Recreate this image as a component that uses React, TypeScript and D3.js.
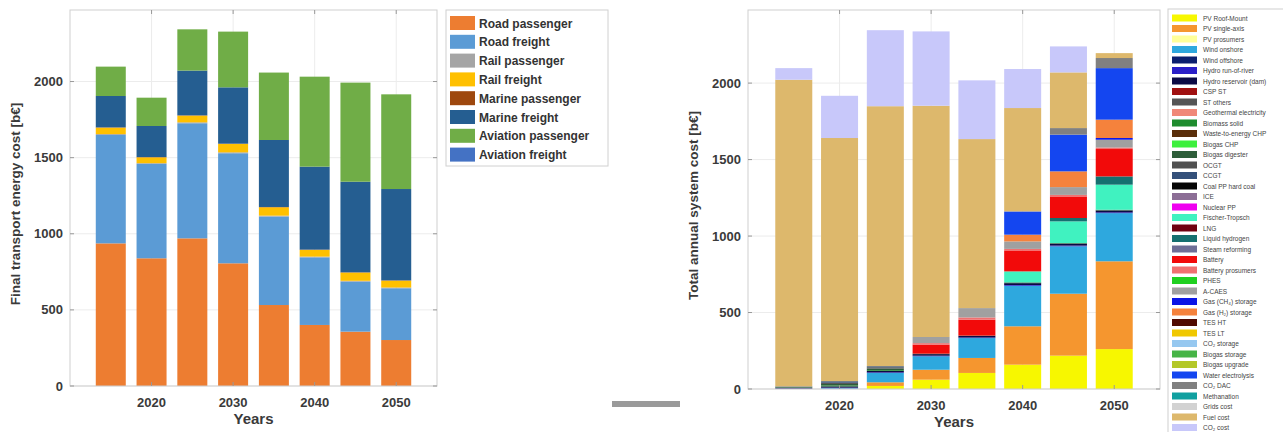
import React from 'react';
import * as d3 from 'd3';

const years = [2015, 2020, 2025, 2030, 2035, 2040, 2045, 2050];
const xTicks = [2020, 2030, 2040, 2050];
const yTicks = [0, 500, 1000, 1500, 2000];

// ---------- Left chart: final transport energy cost [b€] ----------
const transportLabels = [
  'Road passenger', 'Road freight', 'Rail passenger', 'Rail freight',
  'Marine passenger', 'Marine freight', 'Aviation passenger', 'Aviation freight',
];
const transportColors = ['#ED7D31', '#5B9BD5', '#A5A5A5', '#FFC000', '#9E480E', '#255E91', '#70AD47', '#4472C4'];
const roadPassenger = [937, 839, 970, 806, 532, 401, 357, 302];
const roadFreight = [712, 620, 756, 723, 581, 444, 328, 340];
const railPassenger = [6, 5, 6, 6, 6, 5, 6, 5];
const railFreight = [42, 38, 44, 55, 55, 44, 54, 45];
const marinePassenger = [2, 2, 2, 2, 2, 2, 2, 2];
const marineFreight = [206, 204, 294, 370, 440, 545, 595, 600];
const aviationPassenger = [193, 186, 271, 366, 443, 591, 651, 622];
const aviationFreight = [0, 0, 0, 0, 0, 0, 0, 0];
const transportSeries = [roadPassenger, roadFreight, railPassenger, railFreight, marinePassenger, marineFreight, aviationPassenger, aviationFreight];

// ---------- Right chart: total annual system cost [b€] ----------
const techLabels = [
  'PV Roof-Mount', 'PV single-axis', 'PV prosumers', 'Wind onshore', 'Wind offshore',
  'Hydro run-of-river', 'Hydro reservoir (dam)', 'CSP ST', 'ST others', 'Geothermal electricity',
  'Biomass solid', 'Waste-to-energy CHP', 'Biogas CHP', 'Biogas digester', 'OCGT',
  'CCGT', 'Coal PP hard coal', 'ICE', 'Nuclear PP', 'Fischer-Tropsch',
  'LNG', 'Liquid hydrogen', 'Steam reforming', 'Battery', 'Battery prosumers',
  'PHES', 'A-CAES', 'Gas (CH\u2084) storage', 'Gas (H\u2082) storage', 'TES HT',
  'TES LT', 'CO\u2082 storage', 'Biogas storage', 'Biogas upgrade', 'Water electrolysis',
  'CO\u2082 DAC', 'Methanation', 'Grids cost', 'Fuel cost', 'CO\u2082 cost',
];
const techColors = [
  '#F7F700', '#F5962F', '#FFFF9A', '#2EA8DE', '#0B1F6E',
  '#2A1FC8', '#0A0A45', '#A01010', '#555555', '#F08878',
  '#1E8C2E', '#5A2E0A', '#3CF03C', '#2E5E3A', '#505050',
  '#34507A', '#050505', '#8C6E96', '#F000F0', '#40F2C0',
  '#700010', '#157070', '#6E6E96', '#F20A0A', '#F07070',
  '#20D020', '#A0A0A0', '#0A14E6', '#F5823C', '#500A00',
  '#F0C800', '#96C8F0', '#46B446', '#B4C828', '#1446F0',
  '#808080', '#10A0A0', '#D2D2D2', '#DDB86C', '#C8C8FA',
];
const pvRoof = [0, 0, 20, 61, 105, 159, 218, 261];
const pvSingleAxis = [0, 0, 24, 65, 98, 251, 405, 574];
const pvProsumers = [0, 0, 0, 0, 0, 0, 0, 0];
const windOnshore = [0, 5, 61, 88, 130, 265, 310, 315];
const windOffshore = [0, 0, 0, 0, 0, 0, 0, 0];
const hydroRoR = [3, 4, 4, 4, 4, 5, 5, 5];
const hydroDam = [6, 8, 10, 10, 10, 12, 12, 12];
const cspSt = [0, 0, 0, 0, 0, 0, 0, 0];
const stOthers = [0, 0, 0, 0, 0, 0, 0, 0];
const geothermal = [0, 0, 0, 0, 0, 0, 0, 0];
const biomassSolid = [2, 6, 5, 0, 0, 0, 0, 0];
const wasteChp = [0, 0, 0, 0, 0, 0, 0, 0];
const biogasChp = [0, 0, 0, 0, 0, 0, 0, 0];
const biogasDigester = [2, 10, 10, 3, 2, 5, 4, 5];
const ocgt = [2, 8, 8, 0, 0, 0, 0, 0];
const ccgt = [2, 10, 7, 0, 0, 0, 0, 0];
const coalPP = [0, 0, 0, 0, 0, 0, 0, 0];
const ice = [0, 0, 0, 0, 0, 0, 0, 0];
const nuclearPP = [0, 0, 0, 0, 0, 0, 0, 0];
const fischerTropsch = [0, 0, 0, 0, 0, 72, 142, 164];
const lng = [0, 0, 0, 0, 0, 0, 0, 0];
const liquidHydrogen = [0, 0, 0, 0, 0, 0, 22, 54];
const steamReforming = [0, 0, 0, 0, 0, 0, 0, 0];
const battery = [0, 0, 0, 59, 104, 137, 141, 179];
const batteryProsumers = [0, 0, 0, 10, 15, 10, 10, 10];
const phes = [0, 0, 0, 0, 0, 0, 0, 0];
const aCaes = [0, 0, 0, 40, 61, 49, 51, 51];
const gasCh4Storage = [0, 0, 0, 0, 0, 0, 0, 11];
const gasH2Storage = [0, 0, 0, 0, 0, 44, 103, 120];
const tesHt = [0, 0, 0, 0, 0, 0, 0, 0];
const tesLt = [0, 0, 0, 0, 0, 0, 0, 0];
const co2Storage = [0, 0, 0, 0, 0, 0, 0, 0];
const biogasStorage = [0, 0, 0, 0, 0, 0, 0, 0];
const biogasUpgrade = [0, 0, 0, 0, 0, 0, 0, 0];
const waterElectrolysis = [0, 0, 0, 0, 0, 152, 240, 337];
const co2Dac = [0, 0, 0, 0, 0, 0, 43, 66];
const methanation = [0, 0, 0, 0, 0, 0, 0, 0];
const gridsCost = [0, 0, 0, 0, 0, 0, 0, 0];
const fuelCost = [2005, 1590, 1700, 1512, 1105, 676, 364, 32];
const co2Cost = [76, 276, 497, 486, 384, 255, 170, 0];
const techSeries = [
  pvRoof, pvSingleAxis, pvProsumers, windOnshore, windOffshore,
  hydroRoR, hydroDam, cspSt, stOthers, geothermal,
  biomassSolid, wasteChp, biogasChp, biogasDigester, ocgt,
  ccgt, coalPP, ice, nuclearPP, fischerTropsch,
  lng, liquidHydrogen, steamReforming, battery, batteryProsumers,
  phes, aCaes, gasCh4Storage, gasH2Storage, tesHt,
  tesLt, co2Storage, biogasStorage, biogasUpgrade, waterElectrolysis,
  co2Dac, methanation, gridsCost, fuelCost, co2Cost,
];

const FONT = '"Liberation Sans", Arial, sans-serif';
const TXT = '#3a3a3a';

type PanelProps = {
  series: number[][];
  colors: string[];
  left: number; right: number; top: number; bottom: number;
  yMax: number; barWidth: number; yLabel: string;
};

function Panel({ series, colors, left, right, top, bottom, yMax, barWidth, yLabel }: PanelProps) {
  const x = d3.scaleLinear().domain([2010, 2055]).range([left, right]);
  const y = d3.scaleLinear().domain([0, yMax]).range([bottom, top]);
  const keys = series.map((_, i) => 's' + i);
  const table = years.map((yr, j) => {
    const row: Record<string, number> = { year: yr };
    series.forEach((s, i) => { row['s' + i] = s[j]; });
    return row;
  });
  const stacked = d3.stack<Record<string, number>>().keys(keys)(table);
  return (
    <g>
      <rect x={left} y={top} width={right - left} height={bottom - top} fill="#fff" />
      {xTicks.map(t => (
        <line key={'gx' + t} x1={x(t)} x2={x(t)} y1={top} y2={bottom} stroke="#ececec" strokeWidth={1} />
      ))}
      {yTicks.map(t => (
        <line key={'gy' + t} x1={left} x2={right} y1={y(t)} y2={y(t)} stroke="#ececec" strokeWidth={1} />
      ))}
      {stacked.map((layer, i) => (
        <g key={'L' + i} fill={colors[i]}>
          {layer.map((d, j) => {
            const h = y(d[0]) - y(d[1]);
            if (h <= 0) return null;
            return <rect key={j} x={x(years[j]) - barWidth / 2} y={y(d[1])} width={barWidth} height={h} />;
          })}
        </g>
      ))}
      <rect x={left} y={top} width={right - left} height={bottom - top} fill="none" stroke="#cfcfcf" strokeWidth={1} />
      {xTicks.map(t => (
        <g key={'tx' + t}>
          <line x1={x(t)} x2={x(t)} y1={bottom} y2={bottom - 4} stroke="#999" />
          <line x1={x(t)} x2={x(t)} y1={top} y2={top + 4} stroke="#999" />
          <text x={x(t)} y={bottom + 21} textAnchor="middle" fontFamily={FONT} fontWeight="bold" fontSize={13} fill={TXT}>{t}</text>
        </g>
      ))}
      {yTicks.map(t => (
        <g key={'ty' + t}>
          <line x1={left} x2={left + 4} y1={y(t)} y2={y(t)} stroke="#999" />
          <line x1={right} x2={right - 4} y1={y(t)} y2={y(t)} stroke="#999" />
          <text x={left - 7} y={y(t) + 4.5} textAnchor="end" fontFamily={FONT} fontWeight="bold" fontSize={13} fill={TXT}>{t}</text>
        </g>
      ))}
      <text x={(left + right) / 2} y={bottom + 38} textAnchor="middle" fontFamily={FONT} fontWeight="bold" fontSize={15} fill={TXT}>Years</text>
      <text transform={`translate(${left - 50},${(top + bottom) / 2 + 6}) rotate(-90)`} textAnchor="middle" fontFamily={FONT} fontWeight="bold" fontSize={13.5} fill={TXT}>{yLabel}</text>
    </g>
  );
}

export default function App() {
  return (
    <svg width={1283} height={432} style={{ position: 'fixed', left: 0, top: 0, background: '#fff' }}>
      <rect width={1283} height={432} fill="#fff" />
      <Panel series={transportSeries} colors={transportColors} left={70} right={437} top={10} bottom={386}
        yMax={2470} barWidth={30} yLabel="Final transport energy cost [b€]" />
      {/* left legend */}
      <g>
        <rect x={446} y={10} width={162} height={156} fill="#fff" stroke="#d0d0d0" />
        {transportLabels.map((l, i) => (
          <g key={l}>
            <rect x={450} y={16 + i * 18.8} width={25} height={14} fill={transportColors[i]} />
            <text x={479} y={27.5 + i * 18.8} fontFamily={FONT} fontWeight="bold" fontSize={12} fill="#333">{l}</text>
          </g>
        ))}
      </g>
      <rect x={612} y={401} width={68} height={6} fill="#9a9a9a" />
      <Panel series={techSeries} colors={techColors} left={748} right={1160} top={10} bottom={389}
        yMax={2478} barWidth={37} yLabel="Total annual system cost [b€]" />
      {/* right legend */}
      <g>
        <rect x={1168} y={9} width={130} height={440} fill="#fff" stroke="#d0d0d0" />
        {techLabels.map((l, i) => (
          <g key={l}>
            <rect x={1172} y={14.5 + i * 10.5} width={25} height={7} fill={techColors[i]} />
            <text x={1203} y={20.5 + i * 10.5} fontFamily={FONT} fontSize={6.5} fill="#444">{l}</text>
          </g>
        ))}
      </g>
    </svg>
  );
}
